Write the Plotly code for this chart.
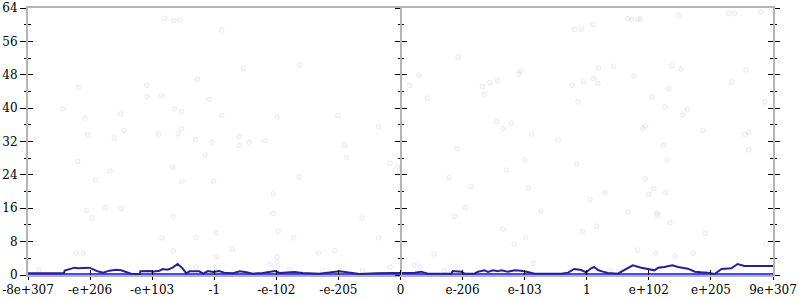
import plotly.graph_objects as go

# ---------------- data ----------------
tick_pos = [-6, -5, -4, -3, -2, -1, 0, 1, 2, 3, 4, 5, 6]
tick_labels = ["-8e+307", "-e+206", "-e+103", "-1", "-e-102", "-e-205", "0",
               "e-206", "e-103", "1", "e+102", "e+205", "9e+307"]
y_ticks = [0, 8, 16, 24, 32, 40, 48, 56, 64]

dots_x = [-3.80, -3.65, -3.56, -2.88, -2.53, -1.63, -3.27, -5.19, -4.09, -4.08,
          -3.85, -3.08, -5.44, -3.64, -3.53, -5.08, -4.51, -2.88, -1.99, -1.01,
          -0.35, -5.04, -4.45, -3.53, -3.90, -3.58, -4.61, -3.30, -2.60, -2.18,
          -3.03, -2.60, -2.44, -0.90, -0.87, -5.20, -4.68, -4.91, -3.67, -3.52,
          -3.15, -3.01, -2.05, -1.63, -0.17, -0.05, -5.06, -4.97, -4.76, -4.50,
          -3.66, -2.05, -0.62, -3.84, -3.29, -2.97, -1.97, -1.72, -0.35, -5.22,
          -5.11, -3.66, -2.71, -2.97, -1.32, -1.06, -1.99, -1.99, -2.10, -1.79,
          -0.17, -3.29, -5.82, -1.25, -0.61,
          3.66, 3.72, 3.82, 3.86, 4.48, 5.29, 5.38, 5.80, 2.80, 2.91,
          3.10, 0.93, 0.30, 0.15, 0.43, 1.32, 1.44, 1.56, 1.35, 1.93,
          1.91, 2.77, 2.95, 3.11, 3.18, 3.19, 3.43, 3.76, 4.37, 4.51,
          5.57, 5.33, 4.32, 4.06, 2.86, 4.26, 4.54, 4.62, 5.87, 1.55,
          1.66, 1.79, 2.11, 2.54, 3.90, 3.94, 4.87, 5.55, 5.61, 4.24,
          5.61, 0.91, 2.00, 1.71, 2.84, 4.30, 0.78, 1.13, 2.06, 3.94,
          4.08, 4.00, 4.27, 3.29, 3.05, 1.04, 0.87, 2.26, 3.66, 4.13,
          4.14, 4.34, 1.65, 3.16, 2.93, 2.01, 4.91, 1.83, 5.89, 0.54,
          3.82, 4.11, 4.42, 4.71, 0.23, 0.32, 2.14, 0.71, 3.38]
dots_y = [61.5, 61.0, 61.1, 58.7, 49.5, 50.3, 46.9, 45.0, 45.5, 42.8,
          43.1, 42.1, 39.9, 39.9, 39.1, 37.6, 38.6, 38.2, 37.9, 38.2,
          35.6, 33.7, 34.6, 35.0, 33.8, 33.8, 32.9, 32.5, 33.2, 32.2,
          31.8, 31.1, 31.8, 31.1, 28.2, 27.2, 24.9, 22.7, 25.8, 22.5,
          28.7, 22.5, 19.5, 23.5, 26.8, 25.9, 15.4, 13.7, 16.1, 15.9,
          14.1, 14.8, 13.7, 8.9, 9.0, 10.2, 10.5, 8.9, 8.9, 5.3,
          5.3, 5.8, 6.1, 4.4, 5.3, 5.8, 4.3, 3.1, 2.6, 1.4,
          1.9, 1.9, 1.2, 1.0, 1.0,
          61.4, 61.3, 61.3, 61.4, 62.1, 62.7, 62.7, 63.0, 58.9, 58.9,
          60.0, 52.2, 47.9, 45.5, 42.4, 45.2, 46.1, 46.7, 43.3, 48.9,
          48.1, 45.5, 46.3, 47.1, 45.9, 49.6, 50.0, 47.7, 50.1, 49.4,
          49.2, 46.3, 44.6, 42.7, 41.5, 40.3, 38.4, 39.7, 41.5, 36.8,
          35.2, 36.4, 33.8, 32.4, 35.2, 35.7, 34.6, 33.7, 34.2, 31.2,
          30.0, 30.3, 27.6, 25.2, 26.7, 27.6, 23.3, 21.2, 20.9, 23.0,
          20.8, 19.3, 19.7, 19.8, 18.1, 16.1, 14.1, 15.3, 15.1, 14.8,
          14.4, 12.5, 11.0, 11.7, 10.5, 9.0, 10.0, 7.4, 7.4, 5.0,
          6.0, 5.2, 4.6, 5.3, 2.4, 2.0, 2.8, 1.1, 1.0]

hist_x = [-6.00, -5.42, -5.41, -5.25, -5.20, -5.12, -5.01, -4.88, -4.79, -4.69,
          -4.58, -4.50, -4.42, -4.34, -4.20, -4.19, -4.02, -4.00, -3.88, -3.83,
          -3.75, -3.67, -3.59, -3.51, -3.45, -3.40, -3.24, -3.18, -3.10, -3.02,
          -2.92, -2.84, -2.70, -2.59, -2.48, -2.38, -2.22, -2.02, -1.95, -1.71,
          -1.57, -1.31, -0.98, -0.82, -0.66, -0.39, -0.07, 0.14, 0.23, 0.33,
          0.44, 0.82, 0.84, 0.98, 1.03, 1.19, 1.25, 1.35, 1.41, 1.49,
          1.57, 1.62, 1.73, 1.84, 1.94, 2.05, 2.16, 2.59, 2.70, 2.80,
          2.91, 2.99, 3.07, 3.12, 3.18, 3.26, 3.34, 3.50, 3.61, 3.74,
          3.88, 4.01, 4.09, 4.15, 4.25, 4.38, 4.47, 4.63, 4.74, 4.84,
          4.95, 5.06, 5.17, 5.33, 5.43, 5.54, 5.68, 6.00]
hist_y = [0.40, 0.40, 1.04, 1.76, 1.60, 1.60, 1.76, 0.88, 0.56, 1.04,
          1.28, 1.12, 0.80, 0.32, 0.16, 0.88, 0.96, 0.80, 1.04, 1.44,
          1.28, 1.76, 2.64, 1.60, 0.40, 0.88, 0.88, 0.32, 0.96, 0.72,
          0.96, 0.56, 0.40, 0.88, 0.64, 0.32, 0.48, 0.96, 0.48, 0.72,
          0.48, 0.32, 0.88, 0.48, 0.24, 0.40, 0.48, 0.48, 0.56, 0.80,
          0.32, 0.32, 0.96, 0.80, 0.32, 0.32, 0.80, 1.12, 0.72, 1.12,
          0.88, 1.12, 0.80, 1.12, 1.04, 0.72, 0.32, 0.32, 0.56, 1.44,
          1.20, 0.64, 1.60, 1.92, 1.20, 0.80, 0.48, 0.32, 1.20, 2.32,
          1.76, 1.36, 1.12, 1.76, 1.92, 2.32, 1.92, 1.52, 0.80, 0.64,
          0.56, 0.24, 1.44, 1.60, 2.64, 2.16, 2.16, 2.16]

base_x = [-6, 6]
base_y = [0.12, 0.12]

# ---------------- figure ----------------
AXIS_GREY = "#b4b4b4"
FONT = dict(family="DejaVu Serif", size=12, color="black")

fig = go.Figure()
fig.add_trace(go.Scatter(
    x=dots_x, y=dots_y, mode="markers", showlegend=False, hoverinfo="skip",
    marker=dict(size=5, color="rgba(205,205,245,0.18)",
                line=dict(color="rgba(190,190,240,0.22)", width=1))))
fig.add_trace(go.Scatter(
    x=base_x, y=base_y, mode="lines", showlegend=False, hoverinfo="skip",
    line=dict(color="rgba(40,40,245,0.85)", width=3)))
fig.add_trace(go.Scatter(
    x=hist_x, y=hist_y, mode="lines", showlegend=False, hoverinfo="skip",
    line=dict(color="#23238f", width=2)))

# empty traces so that overlay axes exist
for xa, ya in [("x2", "y"), ("x", "y2"), ("x", "y3"), ("x", "y4"), ("x", "y5"), ("x", "y6")]:
    fig.add_trace(go.Scatter(x=[], y=[], xaxis=xa, yaxis=ya, showlegend=False))

common_y = dict(range=[0, 64], tickvals=y_ticks, showgrid=False, zeroline=False,
                tickcolor="black", tickwidth=1, fixedrange=True, automargin=False)

fig.update_layout(
    width=800, height=300,
    margin=dict(l=28, r=27, t=8, b=25, autoexpand=False),
    paper_bgcolor="white", plot_bgcolor="white",
    font=FONT,
    xaxis=dict(range=[-6, 6], tickvals=tick_pos, ticktext=tick_labels,
               ticks="outside", ticklen=3, tickcolor="black", tickwidth=1,
               showline=True, linecolor=AXIS_GREY, linewidth=2, mirror=True,
               showgrid=False, zeroline=False, tickfont=FONT, fixedrange=True,
               automargin=False),
    xaxis2=dict(range=[-6, 6], tickvals=tick_pos, overlaying="x", anchor="y",
                side="bottom", ticks="inside", ticklen=5, tickcolor="black",
                showticklabels=False, showline=False, showgrid=False,
                zeroline=False, fixedrange=True, automargin=False),
    yaxis=dict(**common_y, ticks="outside", ticklen=6, tickfont=FONT,
               showline=True, linecolor=AXIS_GREY, linewidth=2,
               minor=dict(dtick=4, ticks="outside", ticklen=2, tickcolor="black")),
    yaxis2=dict(**common_y, overlaying="y", anchor="x", side="left",
                ticks="inside", ticklen=5, showticklabels=False, showline=False,
                minor=dict(dtick=4, ticks="inside", ticklen=3, tickcolor="black")),
    yaxis3=dict(**common_y, overlaying="y", anchor="free", position=0.5, side="left",
                ticks="outside", ticklen=5, showticklabels=False,
                showline=True, linecolor=AXIS_GREY, linewidth=2,
                minor=dict(dtick=4, ticks="outside", ticklen=2, tickcolor="black")),
    yaxis4=dict(**common_y, overlaying="y", anchor="free", position=0.5, side="left",
                ticks="inside", ticklen=5, showticklabels=False, showline=False,
                minor=dict(dtick=4, ticks="inside", ticklen=2, tickcolor="black")),
    yaxis5=dict(**common_y, overlaying="y", anchor="x", side="right",
                ticks="outside", ticklen=5, showticklabels=False,
                showline=True, linecolor=AXIS_GREY, linewidth=2,
                minor=dict(dtick=4, ticks="outside", ticklen=2, tickcolor="black")),
    yaxis6=dict(**common_y, overlaying="y", anchor="x", side="right",
                ticks="inside", ticklen=5, showticklabels=False, showline=False,
                minor=dict(dtick=4, ticks="inside", ticklen=3, tickcolor="black")),
)

fig.write_html("out.html")
